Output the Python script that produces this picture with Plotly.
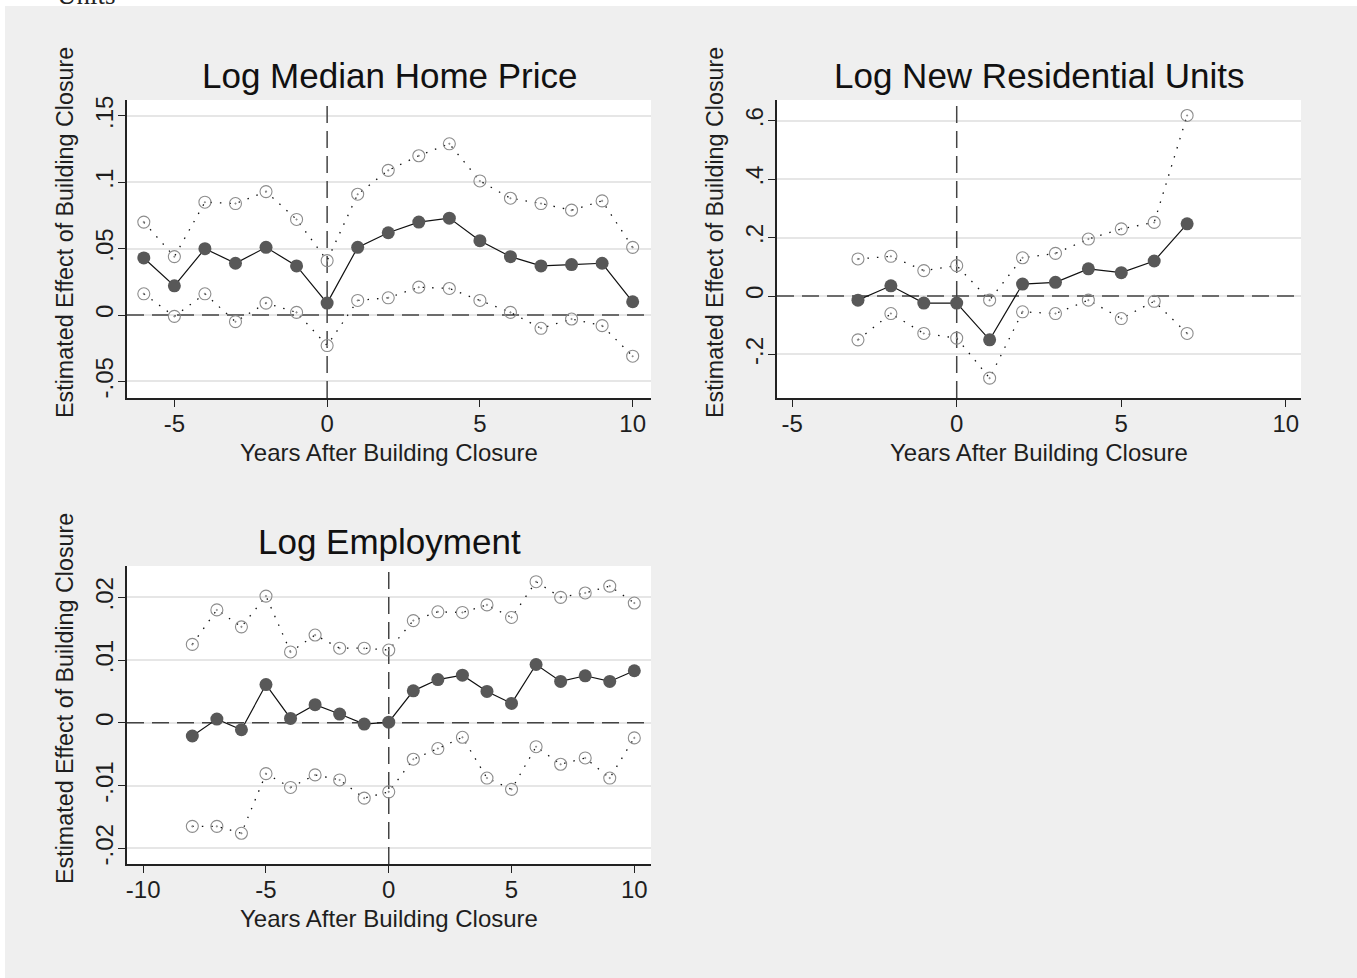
import plotly.graph_objects as go

# ---------------- data ----------------
# Log Median Home Price
years_price = [-6, -5, -4, -3, -2, -1, 0, 1, 2, 3, 4, 5, 6, 7, 8, 9, 10]
price_est = [0.043, 0.022, 0.050, 0.039, 0.051, 0.037, 0.009, 0.051, 0.062, 0.070, 0.073,
             0.056, 0.044, 0.037, 0.038, 0.039, 0.010]
price_hi = [0.070, 0.044, 0.085, 0.084, 0.093, 0.072, 0.041, 0.091, 0.109, 0.120, 0.129,
            0.101, 0.088, 0.084, 0.079, 0.086, 0.051]
price_lo = [0.016, -0.001, 0.016, -0.005, 0.009, 0.002, -0.023, 0.011, 0.013, 0.021, 0.020,
            0.011, 0.002, -0.010, -0.003, -0.008, -0.031]

# Log New Residential Units
years_units = [-3, -2, -1, 0, 1, 2, 3, 4, 5, 6, 7]
units_est = [-0.014, 0.035, -0.024, -0.024, -0.150, 0.041, 0.047, 0.093, 0.080, 0.120, 0.247]
units_hi = [0.127, 0.136, 0.087, 0.104, -0.014, 0.131, 0.146, 0.195, 0.230, 0.252, 0.618]
units_lo = [-0.150, -0.060, -0.128, -0.144, -0.281, -0.054, -0.060, -0.014, -0.077, -0.018, -0.128]

# Log Employment
years_emp = [-8, -7, -6, -5, -4, -3, -2, -1, 0, 1, 2, 3, 4, 5, 6, 7, 8, 9, 10]
emp_est = [-0.0021, 0.0006, -0.0011, 0.0061, 0.0007, 0.0029, 0.0014, -0.0002, 0.0001,
           0.0051, 0.0069, 0.0076, 0.0050, 0.0031, 0.0093, 0.0066, 0.0075, 0.0066, 0.0083]
emp_hi = [0.0125, 0.0180, 0.0153, 0.0202, 0.0113, 0.0140, 0.0119, 0.0119, 0.0116,
          0.0163, 0.0177, 0.0176, 0.0188, 0.0168, 0.0225, 0.0200, 0.0207, 0.0218, 0.0191]
emp_lo = [-0.0165, -0.0165, -0.0176, -0.0081, -0.0103, -0.0083, -0.0091, -0.0120, -0.0110,
          -0.0058, -0.0041, -0.0023, -0.0088, -0.0106, -0.0038, -0.0066, -0.0056, -0.0088, -0.0024]

# tick labels
price_yticks = [-0.05, 0, 0.05, 0.1, 0.15]
price_ylabels = ["-.05", "0", ".05", ".1", ".15"]
units_yticks = [-0.2, 0, 0.2, 0.4, 0.6]
units_ylabels = ["-.2", "0", ".2", ".4", ".6"]
emp_yticks = [-0.02, -0.01, 0, 0.01, 0.02]
emp_ylabels = ["-.02", "-.01", "0", ".01", ".02"]
xticks_a = [-5, 0, 5, 10]
xticks_b = [-10, -5, 0, 5, 10]

panel_titles = ["Log Median Home Price", "Log New Residential Units", "Log Employment"]
xtitle = "Years After Building Closure"
ytitle = "Estimated Effect of Building Closure"

# ---------------- styling ----------------
W, H = 1357, 978
FONT = "Liberation Sans, Arial, sans-serif"
BG = "#efefef"
EST_COLOR = "#585858"
CI_COLOR = "#8c8c8c"
TEXT = "#1e1e1e"
REF_LINE = dict(color="#444444", width=1.5, dash="17px,8px")


def px_x(p):
    return p / W


def px_y(p):
    return 1 - p / H


# plot-area boxes in pixels: (left, right, top, bottom)
boxes = [(127, 651, 100, 398), (777, 1301, 100, 398), (127, 651, 566, 864)]

panels = [
    (years_price, price_est, price_hi, price_lo, price_yticks, price_ylabels, xticks_a,
     [-6.55, 10.6], [-0.0625, 0.162]),
    (years_units, units_est, units_hi, units_lo, units_yticks, units_ylabels, xticks_a,
     [-5.46, 10.46], [-0.349, 0.671]),
    (years_emp, emp_est, emp_hi, emp_lo, emp_yticks, emp_ylabels, xticks_b,
     [-10.66, 10.68], [-0.0225, 0.025]),
]

fig = go.Figure()
layout = dict(
    width=W, height=H,
    margin=dict(l=0, r=0, t=0, b=0),
    paper_bgcolor=BG,
    plot_bgcolor="white",
    showlegend=False,
    font=dict(family=FONT, size=24, color=TEXT),
    shapes=[], annotations=[],
)

for i, (xs, est, hi, lo, yt, yl, xt, xr, yr) in enumerate(panels):
    n = "" if i == 0 else str(i + 1)
    xa, ya = "x" + n, "y" + n
    left, right, top, bottom = boxes[i]

    # dashed reference lines at zero, spanning the axis ranges
    fig.add_trace(go.Scatter(x=xr, y=[0, 0], xaxis=xa, yaxis=ya, mode="lines",
                             line=REF_LINE, hoverinfo="skip"))
    fig.add_trace(go.Scatter(x=[0, 0], y=yr, xaxis=xa, yaxis=ya, mode="lines",
                             line=REF_LINE, hoverinfo="skip"))

    for band in (hi, lo):
        fig.add_trace(go.Scatter(
            x=xs, y=band, xaxis=xa, yaxis=ya, mode="lines+markers",
            line=dict(color="#111111", width=1.3, dash="1.5px,8px"),
            marker=dict(symbol="circle-open-dot", size=12, color=CI_COLOR,
                        line=dict(width=1.1, color=CI_COLOR)),
            hoverinfo="x+y",
        ))
    fig.add_trace(go.Scatter(
        x=xs, y=est, xaxis=xa, yaxis=ya, mode="lines+markers",
        line=dict(color="#111111", width=1.2),
        marker=dict(symbol="circle", size=13, color=EST_COLOR),
        hoverinfo="x+y",
    ))

    layout["xaxis" + n] = dict(
        domain=[px_x(left), px_x(right)], anchor=ya, range=xr,
        tickmode="array", tickvals=xt, ticktext=[str(v) for v in xt],
        showgrid=False, zeroline=False, showline=True, linecolor="#222222", linewidth=1.5,
        ticks="outside", ticklen=7, tickwidth=1.3, tickcolor="#222222",
        ticklabelstandoff=-4,
        tickfont=dict(size=24, color=TEXT), automargin=False,
    )
    layout["yaxis" + n] = dict(
        domain=[px_y(bottom), px_y(top)], anchor=xa, range=yr,
        tickmode="array", tickvals=yt, ticktext=yl, tickangle=-90,
        showgrid=True, gridcolor="#e6e6e6", gridwidth=1.6,
        zeroline=False, showline=True, linecolor="#222222", linewidth=1.5,
        ticks="outside", ticklen=7, tickwidth=1.3, tickcolor="#222222",
        ticklabelstandoff=-4,
        tickfont=dict(size=24, color=TEXT), automargin=False,
    )

    cx = (left + right) / 2
    layout["annotations"].append(dict(
        text=panel_titles[i], xref="paper", yref="paper", x=px_x(cx), y=px_y(top - 25),
        xanchor="center", yanchor="middle", showarrow=False,
        font=dict(family=FONT, size=35, color="#111111")))
    layout["annotations"].append(dict(
        text=xtitle, xref="paper", yref="paper", x=px_x(cx), y=px_y(bottom + 54),
        xanchor="center", yanchor="middle", showarrow=False,
        font=dict(family=FONT, size=24, color=TEXT)))
    layout["annotations"].append(dict(
        text=ytitle, xref="paper", yref="paper", x=px_x(left - 62), y=px_y((top + bottom) / 2 - 16),
        xanchor="center", yanchor="middle", textangle=-90, showarrow=False,
        font=dict(family=FONT, size=23.3, color=TEXT)))

# white strips along the top and left edges of the page
layout["shapes"].append(dict(type="rect", xref="paper", yref="paper", layer="below",
                             x0=0, x1=1, y0=px_y(6), y1=1, line=dict(width=0),
                             fillcolor="white"))
layout["shapes"].append(dict(type="rect", xref="paper", yref="paper", layer="below",
                             x0=0, x1=px_x(5), y0=0, y1=1, line=dict(width=0),
                             fillcolor="white"))
# caption fragment above the figure
layout["annotations"].append(dict(
    text="Units", xref="paper", yref="paper", x=px_x(55), y=px_y(-5),
    xanchor="left", yanchor="middle", showarrow=False,
    font=dict(family="Liberation Serif, Times New Roman, serif", size=27, color="#222222")))

fig.update_layout(**layout)
fig.write_html("out.html")
